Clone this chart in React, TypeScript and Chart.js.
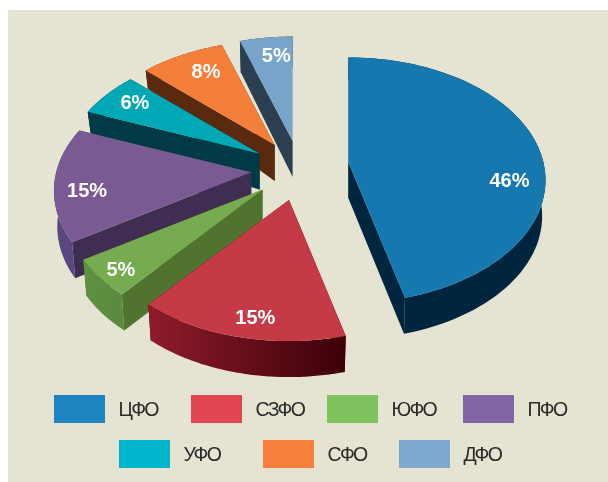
import React, { useEffect, useRef } from "react";
import { Chart, registerables } from "chart.js";

Chart.register(...registerables);

const categories = ["ЦФО", "СЗФО", "ЮФО", "ПФО", "УФО", "СФО", "ДФО"];
const shares = [46, 15, 5, 15, 6, 8, 5];

const topColors = ["#1578ae", "#c53a47", "#76ab4f", "#795a93", "#00a7b5", "#f37f3b", "#79a4c9"];
const legendColors = ["#1e83c1", "#e34653", "#80c25d", "#8365a7", "#00b5cc", "#f67f3c", "#7ea8ce"];
const radialSideColors = ["#00263f", "#4a0010", "#50732f", "#402d52", "#003a45", "#5a2a0e", "#2c3f50"];
const outerSideStart = ["#00263f", "#3d0008", "#5a8a3d", "#5b4780", "#003a45", "#5a2a0e", "#2c3f50"];
const outerSideEnd = ["#00263f", "#8f1c2c", "#5f9143", "#66508c", "#003a45", "#5a2a0e", "#2c3f50"];

const legendRows = [[0, 1, 2, 3], [4, 5, 6]];
const legendRowX = [[46, 183, 319, 455], [111, 255, 391]];
const legendRowY = [385, 430];

const sliceNudgeY = [-4, 0, 0, 0, 0, 0, 0];
const labelNudgeX = [5, 6, -11, -3, 2, 9, 6];
const labelNudgeY = [31, 8, 9, 9, -2, 2, 1];
const depthFalloff = [14, 22, 22, 22, 40, 26, 5];

const STRETCH_X = 1.398;
const STRETCH_Y = 0.86;
const PERSPECTIVE = 0.15;
const DEPTH = 36;
const BOTTOM_SHRINK = 0.983;
const LABEL_RADIUS = 0.82;

const pie3d = {
  id: "pie3d",
  beforeDatasetDraw(chart: any, args: any) {
    const ctx: CanvasRenderingContext2D = chart.ctx;
    const arcs = args.meta.data;
    const project = (r: number, a: number, R: number) => {
      const u = r * Math.cos(a);
      const w = r * Math.sin(a);
      const s = 1 / (1 - PERSPECTIVE * w);
      return { x: STRETCH_X * R * u * s, y: STRETCH_Y * R * w * s, w };
    };
    for (let i = arcs.length - 1; i >= 0; i--) {
      const arc = arcs[i];
      const { x, y, startAngle, endAngle, outerRadius: R } = arc.getProps(
        ["x", "y", "startAngle", "endAngle", "outerRadius"],
        true
      );
      const mid = (startAngle + endAngle) / 2;
      const off = project(arc.options.offset / R, mid, R);
      const ax = x + off.x;
      const ay = y + off.y + sliceNudgeY[i];
      const top = (a: number) => {
        const p = project(1, a, R);
        return { x: ax + p.x, y: ay + p.y, w: p.w };
      };
      const bottom = (a: number) => {
        const p = project(1, a, R);
        return {
          x: ax + p.x * BOTTOM_SHRINK,
          y: ay + p.y + DEPTH + depthFalloff[i] * Math.min(p.w, 0),
        };
      };
      const steps = 80;
      const angles: number[] = [];
      for (let k = 0; k <= steps; k++) angles.push(startAngle + ((endAngle - startAngle) * k) / steps);

      // radial faces
      ctx.fillStyle = radialSideColors[i];
      for (const a of [startAngle, endAngle]) {
        const t = top(a);
        const b = bottom(a);
        ctx.beginPath();
        ctx.moveTo(ax, ay);
        ctx.lineTo(t.x, t.y);
        ctx.lineTo(b.x, b.y);
        ctx.lineTo(ax, ay + DEPTH);
        ctx.closePath();
        ctx.fill();
      }

      // outer curved face
      const s0 = top(startAngle);
      const s1 = top(endAngle);
      const grad = ctx.createLinearGradient(s0.x, 0, s1.x === s0.x ? s0.x + 1 : s1.x, 0);
      grad.addColorStop(0, outerSideStart[i]);
      grad.addColorStop(1, outerSideEnd[i]);
      ctx.fillStyle = grad;
      ctx.beginPath();
      angles.forEach((a, k) => {
        const p = top(a);
        if (k === 0) ctx.moveTo(p.x, p.y);
        else ctx.lineTo(p.x, p.y);
      });
      [...angles].reverse().forEach((a) => {
        const p = bottom(a);
        ctx.lineTo(p.x, p.y);
      });
      ctx.closePath();
      ctx.fill();

      // top face
      ctx.fillStyle = arc.options.backgroundColor;
      ctx.beginPath();
      ctx.moveTo(ax, ay);
      angles.forEach((a) => {
        const p = top(a);
        ctx.lineTo(p.x, p.y);
      });
      ctx.closePath();
      ctx.fill();

      // value label
      const l = project(LABEL_RADIUS, mid, R);
      ctx.fillStyle = "#ffffff";
      ctx.font = 'bold 20px "Liberation Sans"';
      ctx.textAlign = "center";
      ctx.textBaseline = "middle";
      ctx.fillText(
        `${chart.data.datasets[0].data[i]}%`,
        ax + l.x + labelNudgeX[i],
        ay + l.y + 1 + labelNudgeY[i]
      );
    }
    return false;
  },
  afterDraw(chart: any) {
    const ctx: any = chart.ctx;
    ctx.save();
    ctx.font = '19.5px "Liberation Sans"';
    ctx.textAlign = "left";
    ctx.textBaseline = "middle";
    ctx.letterSpacing = "-1.7px";
    legendRows.forEach((row, r) => {
      row.forEach((idx, c) => {
        const bx = legendRowX[r][c];
        const by = legendRowY[r];
        ctx.fillStyle = legendColors[idx];
        ctx.fillRect(bx, by, 51, 28);
        ctx.fillStyle = "#2a2a2a";
        ctx.fillText(chart.data.labels[idx], bx + 51 + 13.5, by + 16);
      });
    });
    ctx.restore();
  },
};

export default function App() {
  const ref = useRef<HTMLCanvasElement>(null);
  useEffect(() => {
    const chart = new Chart(ref.current as HTMLCanvasElement, {
      type: "pie",
      data: {
        labels: categories,
        datasets: [{ data: shares, backgroundColor: topColors, borderWidth: 0, offset: 34.9 }],
      },
      options: {
        animation: false,
        responsive: false,
        events: [],
        layout: { padding: { left: 0, top: 2.5, right: 16, bottom: 155.5 } },
        plugins: { legend: { display: false }, tooltip: { enabled: false } },
      },
      plugins: [pie3d],
    } as any);
    return () => chart.destroy();
  }, []);
  return (
    <div style={{ position: "absolute", left: 8, top: 10, width: 600, height: 472, background: "#e5e4d3" }}>
      <canvas ref={ref} width={600} height={472} style={{ display: "block" }} />
    </div>
  );
}
